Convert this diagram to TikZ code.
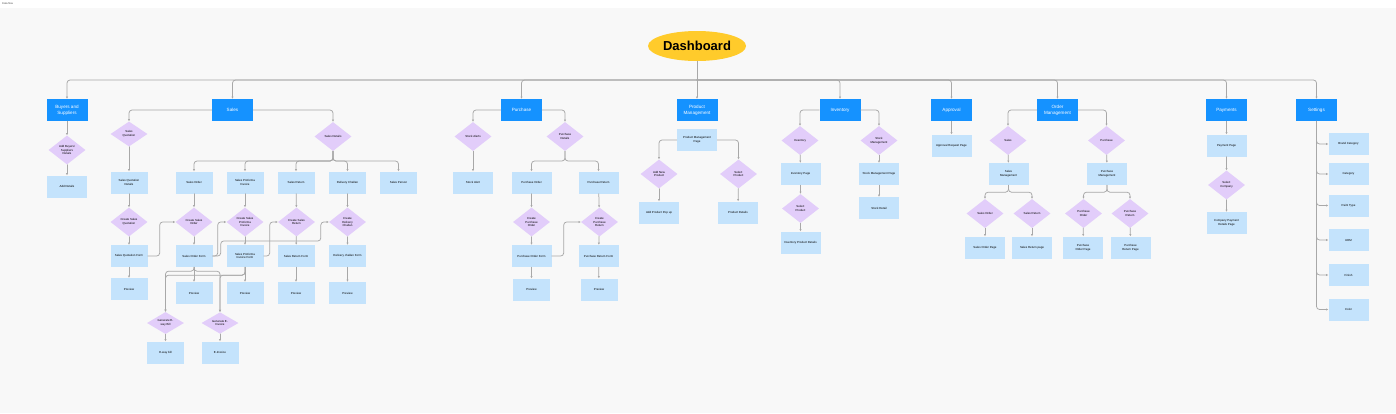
\documentclass[tikz,border=0pt]{standalone}
\usepackage{fontspec}
\setmainfont{Liberation Sans}
\usetikzlibrary{arrows.meta,shapes.geometric}
\definecolor{sectionblue}{HTML}{1592FF}
\definecolor{pageblue}{HTML}{C4E3FC}
\definecolor{choicepurple}{HTML}{E2CDFA}
\definecolor{dashyellow}{HTML}{FFCB2B}
\definecolor{linkgray}{HTML}{A8A8A8}
\definecolor{canvasgray}{HTML}{F8F8F8}
\newcommand\tinytext{\fontsize{2.9}{3.6}\selectfont}

\begin{document}
\begin{tikzpicture}[
  x=1pt,
  y=-1pt,
  line join=round,
  line cap=round,
  topbox/.style={fill=sectionblue,text=white,minimum width=41pt,minimum height=22pt,inner sep=0pt,align=center,font=\fontsize{4.6}{5.8}\selectfont},
  pagebox/.style={fill=pageblue,minimum width=40pt,minimum height=22pt,inner sep=0pt,align=center,font=\tinytext},
  choice/.style={diamond,fill=choicepurple,minimum width=37pt,minimum height=29pt,inner sep=0pt,align=center,font=\tinytext},
  link/.style={draw=linkgray,line width=0.75pt,rounded corners=3pt,-{Latex[length=2.2pt,width=2.2pt]}}
]
  % Canvas and page title.
  \useasboundingbox (0,0) rectangle (1396,413);
  \fill[white] (0,0) rectangle (1396,8);
  \fill[canvasgray] (0,8) rectangle (1396,413);
  \node[anchor=west,inner sep=0pt,text=black!70,font=\fontsize{2.6}{3}\selectfont] (title) at (2,3.5) {Data flow};

  % Root and the main bus.
  \node[ellipse,fill=dashyellow,minimum width=98pt,minimum height=30pt,inner sep=0pt,font=\fontsize{13}{15}\selectfont\bfseries] (dash) at (697,46) {Dashboard};
  \coordinate (bus) at (697,80);

  % Top-level modules.
  \node[topbox] (buyers) at (67,110) {Buyers and\\Suppliers};
  \node[topbox] (sales) at (232.5,110) {Sales};
  \node[topbox] (purchase) at (521.5,110) {Purchase};
  \node[topbox] (prodmgmt) at (697,110) {Product\\Management};
  \node[topbox] (inventory) at (840,110) {Inventory};
  \node[topbox] (approval) at (951.5,110) {Approval};
  \node[topbox] (ordermgmt) at (1057.5,110) {Order\\Management};
  \node[topbox] (payments) at (1226.5,110) {Payments};
  \node[topbox] (settings) at (1316.5,110) {Settings};

  \draw[link] (dash) -- (prodmgmt);
  \foreach \n in {buyers,sales,purchase,inventory,approval,ordermgmt,payments,settings} {
    \draw[link] (bus) -| (\n.north);
  }

  % Buyers and suppliers.
  \node[choice] (addbuyers) at (67,150) {Add Buyers/\\Suppliers\\Details};
  \node[pagebox] (adddetails) at (67,186.5) {Add Details};
  \draw[link] (buyers) -- (addbuyers);
  \draw[link] (addbuyers) -- (adddetails);

  % Sales: quotation branch.
  \node[choice,minimum height=25pt] (squot) at (129,134) {Sales\\Quotation};
  \node[pagebox,minimum width=37pt] (squotdet) at (129,182.5) {Sales Quotation\\Details};
  \node[choice] (csquot) at (129,222) {Create Sales\\Quotation};
  \node[pagebox,minimum width=37pt] (squotform) at (129,256) {Sales Quotation Form};
  \node[pagebox,minimum width=37pt] (squotprev) at (129,289) {Preview};
  \draw[link] (sales.west) -| (squot.north);
  \draw[link] (squot) -- (squotdet);
  \draw[link] (squotdet) -- (csquot);
  \draw[link] (csquot) -- (squotform);
  \draw[link] (squotform) -- (squotprev);

  % Sales: details branch.
  \node[choice] (sdet) at (333,136.5) {Sales Details};
  \coordinate (sdbus) at (333,161);
  \node[pagebox,minimum width=37pt] (sorder) at (194,182.5) {Sales Order};
  \node[pagebox,minimum width=37pt] (sproinv) at (245,182.5) {Sales Proforma\\Invoice};
  \node[pagebox,minimum width=37pt] (sreturn) at (296,182.5) {Sales Return};
  \node[pagebox,minimum width=37pt] (dchallan) at (347.5,182.5) {Delivery Challan};
  \node[pagebox,minimum width=37pt] (sperson) at (398.5,182.5) {Sales Person};
  \draw[link] (sales.east) -| (sdet.north);
  \foreach \n in {sorder,sproinv,sreturn,dchallan,sperson} {
    \draw[link] (sdet.south) -- (sdbus) -| (\n.north);
  }

  \node[choice] (csorder) at (194,222) {Create Sales\\Order};
  \node[choice] (cspi) at (245,222) {Create Sales\\Proforma\\Invoice};
  \node[choice] (csreturn) at (296.5,222) {Create Sales\\Return};
  \node[choice] (cdc) at (347.5,222) {Create\\Delivery\\Challan};
  \node[pagebox,minimum width=37pt] (sorderform) at (194,256) {Sales Order Form};
  \node[pagebox,minimum width=37pt] (spiform) at (245,256) {Sales Proforma\\Invoice Form};
  \node[pagebox,minimum width=37pt] (sreturnform) at (296,256) {Sales Return Form};
  \node[pagebox,minimum width=37pt] (dcform) at (347.5,256) {Delivery challan Form};
  \foreach \a/\b/\c in {sorder/csorder/sorderform,sproinv/cspi/spiform,sreturn/csreturn/sreturnform,dchallan/cdc/dcform} {
    \draw[link] (\a) -- (\b);
    \draw[link] (\b) -- (\c);
  }
  \foreach \n/\x in {sorderprev/194,spiprev/245,sreturnprev/296,dcprev/347.5} {
    \node[pagebox,minimum width=37pt] (\n) at (\x,293) {Preview};
  }
  \draw[link] (sorderform) -- (sorderprev);
  \draw[link] (spiform) -- (spiprev);
  \draw[link] (sreturnform) -- (sreturnprev);
  \draw[link] (dcform) -- (dcprev);

  % Sales: cross links between forms and the next create step.
  \draw[link] (squotform.east) -- ++(12,0) |- (csorder.west);
  \draw[link] (sorderform.east) -- ++(5,0) |- (cspi.west);
  \draw[link] (sorderform.east) -- ++(8,0) -- ++(0,-15) -| ([xshift=-8pt]cdc.west) -- (cdc.west);
  \draw[link] (spiform.east) -- ++(6,0) |- (csreturn.west);

  % Sales: e-way bill and e-invoice.
  \node[choice,minimum height=21pt] (ewaybill) at (165.5,323) {Generate E-\\way Bill};
  \node[choice,minimum height=21pt] (einvoice) at (220,323) {Generate E-\\Invoice};
  \node[pagebox,minimum width=37pt] (ewaybox) at (165.5,352.5) {E-way bill};
  \node[pagebox,minimum width=37pt] (einvbox) at (220,352.5) {E-Invoice};
  \draw[link] (sorderform.south) -- ++(0,4) -| (ewaybill.north);
  \draw[link] (sorderform.south) -- ++(0,4) -| (einvoice.north);
  \draw[link] (spiform.south) -- ++(0,8) -| (ewaybill.north);
  \draw[link] (spiform.south) -- ++(0,8) -| (einvoice.north);
  \draw[link] (ewaybill) -- (ewaybox);
  \draw[link] (einvoice) -- (einvbox);

  % Purchase.
  \node[choice] (stockalert) at (473,136.5) {Stock Alerts};
  \node[choice] (pdet) at (565,136.5) {Purchase\\Details};
  \node[pagebox] (stockbox) at (473,182.5) {Stock Alert};
  \node[pagebox] (porder) at (531.5,182.5) {Purchase Order};
  \node[pagebox] (preturn) at (598.5,182.5) {Purchase Return};
  \node[choice] (cporder) at (531.5,222) {Create\\Purchase\\Order};
  \node[choice] (cpreturn) at (599.5,222) {Create\\Purchase\\Return};
  \node[pagebox] (poform) at (531.5,256) {Purchase Order Form};
  \node[pagebox] (prform) at (598.5,256) {Purchase Return Form};
  \node[pagebox,minimum width=37pt] (poprev) at (531.5,289.5) {Preview};
  \node[pagebox,minimum width=37pt] (prprev) at (599,289.5) {Preview};
  \coordinate (pdbus) at (565,161);
  \draw[link] (purchase.west) -| (stockalert.north);
  \draw[link] (purchase.east) -| (pdet.north);
  \draw[link] (stockalert) -- (stockbox);
  \draw[link] (pdet.south) -- (pdbus) -| (porder.north);
  \draw[link] (pdet.south) -- (pdbus) -| (preturn.north);
  \draw[link] (porder) -- (cporder);
  \draw[link] (cporder) -- (poform);
  \draw[link] (poform) -- (poprev);
  \draw[link] (preturn) -- (cpreturn);
  \draw[link] (cpreturn) -- (prform);
  \draw[link] (prform) -- (prprev);
  \draw[link] (poform.east) -- ++(12,0) |- (cpreturn.west);

  % Product management.
  \node[pagebox] (pmpage) at (697,140) {Product Management\\Page};
  \node[choice] (addprod) at (659,174) {Add New\\Product};
  \node[choice] (selprod) at (738.5,174) {Select\\Product};
  \node[pagebox] (addpopup) at (659,212.5) {Add Product Pop up};
  \node[pagebox] (proddet) at (738,212.5) {Product Details};
  \draw[link] (pmpage.west) -| (addprod.north);
  \draw[link] (pmpage.east) -| (selprod.north);
  \draw[link] (addprod) -- (addpopup);
  \draw[link] (selprod) -- (proddet);

  % Inventory.
  \node[choice] (invq) at (800,140.5) {Inventory};
  \node[pagebox] (invpage) at (800.5,174) {Inventory Page};
  \node[choice] (invsel) at (800.5,208.5) {Select\\Product};
  \node[pagebox] (invdet) at (800.5,242.5) {Inventory Product Details};
  \node[choice] (stockq) at (879,140.5) {Stock\\Management};
  \node[pagebox] (stockpage) at (879,174) {Stock Management Page};
  \node[pagebox] (stockdet) at (879,208) {Stock Detail};
  \draw[link] (inventory.west) -| (invq.north);
  \draw[link] (inventory.east) -| (stockq.north);
  \draw[link] (invq) -- (invpage);
  \draw[link] (invpage) -- (invsel);
  \draw[link] (invsel) -- (invdet);
  \draw[link] (stockq) -- (stockpage);
  \draw[link] (stockpage) -- (stockdet);

  % Approval.
  \node[pagebox] (appreq) at (951.5,145.5) {Approval Request Page};
  \draw[link] (approval) -- (appreq);

  % Order management.
  \node[choice] (omsales) at (1008,140.5) {Sales};
  \node[choice] (ompurch) at (1106.5,140.5) {Purchase};
  \node[pagebox] (salesmgmt) at (1008.5,174) {Sales\\Management};
  \node[pagebox] (purchmgmt) at (1107,174) {Purchase\\Management};
  \node[choice] (osorder) at (985,213.5) {Sales Order};
  \node[choice] (osreturn) at (1032,213.5) {Sales Return};
  \node[choice] (oporder) at (1083.5,213.5) {Purchase\\Order};
  \node[choice] (opreturn) at (1130,213.5) {Purchase\\Return};
  \node[pagebox] (sopage) at (985,247.5) {Sales Order Page};
  \node[pagebox] (srpage) at (1032,247.5) {Sales Return page};
  \node[pagebox] (popage) at (1083,247.5) {Purchase\\Order Page};
  \node[pagebox] (prpage) at (1130.5,247.5) {Purchase\\Return Page};
  \draw[link] (ordermgmt.west) -| (omsales.north);
  \draw[link] (ordermgmt.east) -| (ompurch.north);
  \draw[link] (omsales) -- (salesmgmt);
  \draw[link] (ompurch) -- (purchmgmt);
  \foreach \n in {osorder,osreturn} {
    \draw[link] (salesmgmt.south) -- ++(0,7) -| (\n.north);
  }
  \foreach \n in {oporder,opreturn} {
    \draw[link] (purchmgmt.south) -- ++(0,7) -| (\n.north);
  }
  \foreach \a/\b in {osorder/sopage,osreturn/srpage,oporder/popage,opreturn/prpage} {
    \draw[link] (\a) -- (\b);
  }

  % Payments.
  \node[pagebox] (paypage) at (1226.5,145.5) {Payment Page};
  \node[choice] (selcomp) at (1226.5,185) {Select\\Company};
  \node[pagebox] (comppay) at (1226.5,223) {Company Payment\\Details Page};
  \draw[link] (payments) -- (paypage);
  \draw[link] (paypage) -- (selcomp);
  \draw[link] (selcomp) -- (comppay);

  % Settings: one trunk, one branch per master.
  \foreach \n/\y/\t in {brandcat/144/Brand Category,category/174/Category,painttype/205.5/Paint Type,uom/240/UOM,finish/275/Finish,color/309.5/Color} {
    \node[pagebox] (\n) at (1348.5,\y) {\t};
    \draw[link] (settings.south) |- (\n.west);
  }
\end{tikzpicture}
\end{document}
